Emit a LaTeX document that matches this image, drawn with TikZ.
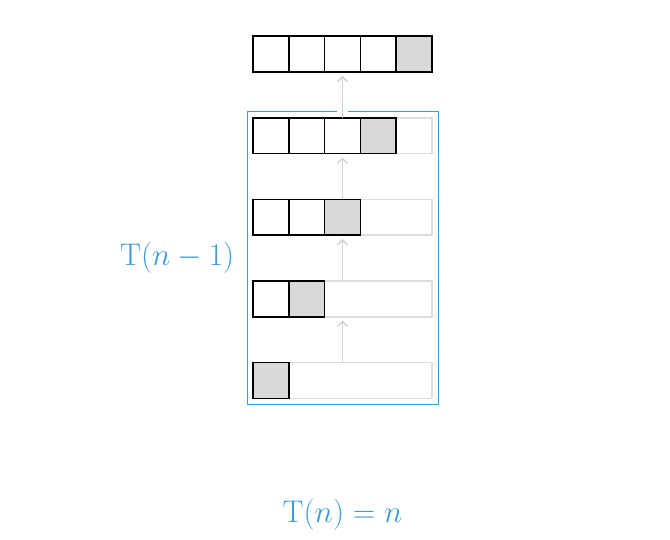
\documentclass[tikz,border=0pt]{standalone}
\usepackage{tikz}
\usetikzlibrary{positioning,fit,arrows.meta}
\definecolor{tblue}{RGB}{58,155,218}
\definecolor{cellgray}{RGB}{217,217,217}
\definecolor{slotgray}{RGB}{221,221,221}
\definecolor{arrowgray}{RGB}{212,212,212}

\begin{document}
\begin{tikzpicture}[>={Straight Barb[length=4pt,width=8pt]},
  cell/.style={draw=black, line width=1.3pt, fill=white, minimum size=1cm, inner sep=0pt, outer sep=0pt},
  lastcell/.style={cell, fill=cellgray},
  slot/.style={draw=slotgray, line width=1.3pt, minimum width=5cm, minimum height=1cm, inner sep=0pt, outer sep=0pt},
  growarrow/.style={->, draw=arrowgray, line width=1.2pt, shorten >=3pt},
  label/.style={text=tblue, font=\Huge}]

\useasboundingbox (0,0) rectangle (18.72,15.08);

% empty slots of each array
\node[slot] (row1) at (9.57,4.45) {};
\node[slot] (row2) at (9.57,6.73) {};
\node[slot] (row3) at (9.57,9.01) {};
\node[slot] (row4) at (9.57,11.29) {};
\node[slot, draw=none] (row5) at (9.57,13.57) {};

% filled cells, the last one is the new element
\foreach \r/\y in {1/4.45, 2/6.73, 3/9.01, 4/11.29, 5/13.57} {
  \foreach \i in {1,...,\r}
    \node[cell] (c\r-\i) at (6.57+\i,\y) {};
  \node[lastcell] at (c\r-\r) {};
}

% frame for T(n-1)
\node[draw=tblue, line width=0.7pt, inner sep=0.17cm, fit=(row1)(row4)] (frame) {};
\draw[white, line width=9pt] ([yshift=-1pt]frame.north) -- ([yshift=1pt]frame.north);

% arrows between arrays
\draw[growarrow] (row1.north) -- (row2.south);
\draw[growarrow] (row2.north) -- (row3.south);
\draw[growarrow] (row3.north) -- (row4.south);
\draw[growarrow] (row4.north) -- (row5.south);

% labels
\node[label, left=0.22cm of frame] (tprev) {$\mathrm{T}(n-1)$};
\node[label] (tn) at (9.57,0.70) {$\mathrm{T}(n)=n$};

\end{tikzpicture}
\end{document}
